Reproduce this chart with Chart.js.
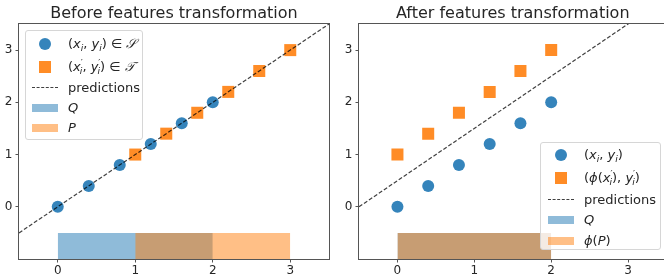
<!DOCTYPE html>
<html><head><meta charset="utf-8">
<script src="https://cdn.jsdelivr.net/npm/chart.js@4.4.0/dist/chart.umd.min.js"></script>
<style>
html,body{margin:0;padding:0;background:#fff;overflow:hidden;width:664px;height:280px;}
#wrap{position:relative;width:664px;height:280px;overflow:hidden;}
.cv{position:absolute;top:0;}
.leg{position:absolute;background:rgba(255,255,255,0.8);border:1px solid #d6d6d6;border-radius:3px;box-sizing:border-box;font-family:'DejaVu Sans';font-size:13px;color:#262626;}
.row{position:absolute;height:16px;line-height:16px;white-space:nowrap;}
.row sub,.row sup{font-size:70%;line-height:0;font-style:italic;}
.row sub{vertical-align:-3px;}
.row sup{vertical-align:5px;font-style:normal;}
.h{position:absolute;}
</style></head>
<body>
<div id="wrap">
<div class="cv" style="left:0;width:332px;height:280px;"><canvas id="c1" width="332" height="280"></canvas></div>
<div class="cv" style="left:332px;width:340px;height:280px;"><canvas id="c2" width="340" height="280"></canvas></div>

<div class="leg" style="left:25px;top:30px;width:118px;height:110px;">
  <div class="h" style="left:13px;top:7px;width:12px;height:12px;border-radius:50%;background:rgba(31,119,180,0.9)"></div>
  <div class="row" style="left:42px;top:5px;">(<i>x</i><sub>i</sub>, <i>y</i><sub>i</sub>) ∈ <i>𝒮</i></div>
  <div class="h" style="left:13px;top:30px;width:12px;height:12px;background:rgba(255,127,14,0.9)"></div>
  <div class="row" style="left:42px;top:28px;">(<i>x</i><sup>′</sup><sub style="margin-left:-3px">i</sub>, <i>y</i><sup>′</sup><sub style="margin-left:-3px">i</sub>) ∈ <i>𝒯</i></div>
  <div class="h" style="left:6px;top:56px;width:26px;height:0;border-top:1.2px dashed rgba(0,0,0,0.75)"></div>
  <div class="row" style="left:42px;top:49px;">predictions</div>
  <div class="h" style="left:6px;top:73px;width:26px;height:8px;background:rgba(31,119,180,0.5)"></div>
  <div class="row" style="left:42px;top:69px;"><i>Q</i></div>
  <div class="h" style="left:6px;top:93px;width:26px;height:8px;background:rgba(255,127,14,0.5)"></div>
  <div class="row" style="left:42px;top:89px;"><i>P</i></div>
</div>

<div class="leg" style="left:540px;top:142px;width:121px;height:108px;">
  <div class="h" style="left:14px;top:6px;width:12px;height:12px;border-radius:50%;background:rgba(31,119,180,0.9)"></div>
  <div class="row" style="left:43px;top:4px;">(<i>x</i><sub>i</sub>, <i>y</i><sub>i</sub>)</div>
  <div class="h" style="left:14px;top:29px;width:12px;height:12px;background:rgba(255,127,14,0.9)"></div>
  <div class="row" style="left:43px;top:27px;">(<i>ϕ</i>(<i>x</i><sup>′</sup><sub style="margin-left:-3px">i</sub>), <i>y</i><sup>′</sup><sub style="margin-left:-3px">i</sub>)</div>
  <div class="h" style="left:7px;top:56px;width:26px;height:0;border-top:1.2px dashed rgba(0,0,0,0.75)"></div>
  <div class="row" style="left:43px;top:49px;">predictions</div>
  <div class="h" style="left:7px;top:73px;width:26px;height:8px;background:rgba(31,119,180,0.5)"></div>
  <div class="row" style="left:43px;top:69px;"><i>Q</i></div>
  <div class="h" style="left:7px;top:94px;width:26px;height:8px;background:rgba(255,127,14,0.5)"></div>
  <div class="row" style="left:43px;top:90px;"><i>ϕ</i>(<i>P</i>)</div>
</div>
</div>
<script>
// ---- data ----
const srcX = [0, 0.4, 0.8, 1.2, 1.6, 2.0];
const srcY = [0, 0.4, 0.8, 1.2, 1.6, 2.0];
const tgtBeforeX = [1.0, 1.4, 1.8, 2.2, 2.6, 3.0];
const tgtBeforeY = [1.0, 1.4, 1.8, 2.2, 2.6, 3.0];
const tgtAfterX = [0, 0.4, 0.8, 1.2, 1.6, 2.0];
const tgtAfterY = [1.0, 1.4, 1.8, 2.2, 2.6, 3.0];
const predBeforeX = [-0.5, 3.5];
const predBeforeY = [-0.5, 3.5];
const predAfterX = [-0.5, 3.5];
const predAfterY = [0, 4.0];
const qRange = [0, 2];
const pRange = [1, 3];
const phiPRange = [0, 2];
const bandTop = -0.5;
const xTicks = [0, 1, 2, 3];
const yTicks = [0, 1, 2, 3];
const xRange = [-0.5, 3.5];
const yRange = [-1, 3.5];
const titles = ['Before features transformation', 'After features transformation'];

const BLUE = 'rgba(31,119,180,0.9)', ORANGE = 'rgba(255,127,14,0.9)';
const BLUE_A = 'rgba(31,119,180,0.5)', ORANGE_A = 'rgba(255,127,14,0.5)';
const FONT = 'DejaVu Sans';
const zip = (xs, ys) => xs.map((x, i) => ({x, y: ys[i]}));

const framePlugin = {
  id: 'frame',
  afterDraw(chart) {
    const a = chart.chartArea, ctx = chart.ctx;
    ctx.save();
    ctx.strokeStyle = '#555';
    ctx.lineWidth = 1;
    ctx.strokeRect(Math.round(a.left) - 0.5, Math.round(a.top) - 0.5, Math.round(a.right - a.left) + 1, Math.round(a.bottom - a.top) + 1);
    ctx.restore();
  }
};

function makeChart(id, title, tgtX, tgtY, pX, pY, bandA, bandB, yAxisW, padRight) {
  const band = r => [{x: r[0], y: bandTop}, {x: r[1], y: bandTop}];
  return new Chart(document.getElementById(id), {
    type: 'line',
    data: {
      datasets: [
        {data: zip(pX, pY), borderColor: 'rgba(0,0,0,0.75)', borderWidth: 1.2, borderDash: [4, 2], pointRadius: 0, fill: false, order: 0},
        {data: zip(srcX, srcY), showLine: false, pointStyle: 'circle', pointRadius: 6, pointBackgroundColor: BLUE, pointBorderWidth: 0, order: 1},
        {data: zip(tgtX, tgtY), showLine: false, pointStyle: 'rect', pointRadius: 8.5, pointBackgroundColor: ORANGE, pointBorderWidth: 0, order: 1},
        {data: band(bandB), borderWidth: 0, pointRadius: 0, fill: 'start', backgroundColor: ORANGE_A, order: 2},
        {data: band(bandA), borderWidth: 0, pointRadius: 0, fill: 'start', backgroundColor: BLUE_A, order: 3}
      ]
    },
    options: {
      responsive: false, animation: false, events: [],
      layout: {autoPadding: false, padding: {top: 0, left: 0, right: padRight, bottom: 0}},
      plugins: {
        legend: {display: false}, tooltip: {enabled: false},
        title: {display: true, text: title, fullSize: false, color: '#262626', font: {family: FONT, size: 16, weight: 'normal', lineHeight: 1.2}, padding: {top: 4, bottom: 0.8}}
      },
      scales: {
        x: {
          type: 'linear', min: xRange[0], max: xRange[1],
          afterBuildTicks: s => { s.ticks = xTicks.map(v => ({value: v})); },
          afterFit: s => { s.height = 21; },
          grid: {drawOnChartArea: false, drawTicks: true, tickLength: 3.5, color: '#555'},
          border: {display: false},
          ticks: {color: '#262626', font: {family: FONT, size: 12}, padding: 1, autoSkip: false, maxRotation: 0}
        },
        y: {
          type: 'linear', min: yRange[0], max: yRange[1],
          afterBuildTicks: s => { s.ticks = yTicks.map(v => ({value: v})); },
          afterFit: s => { s.width = yAxisW; },
          grid: {drawOnChartArea: false, drawTicks: true, tickLength: 3.5, color: '#555'},
          border: {display: false},
          ticks: {color: '#262626', font: {family: FONT, size: 12}, padding: 3, autoSkip: false}
        }
      }
    },
    plugins: [framePlugin]
  });
}

makeChart('c1', titles[0], tgtBeforeX, tgtBeforeY, predBeforeX, predBeforeY, qRange, pRange, 19, 3);
makeChart('c2', titles[1], tgtAfterX, tgtAfterY, predAfterX, predAfterY, qRange, phiPRange, 27, 5.5);
</script>
</body></html>
